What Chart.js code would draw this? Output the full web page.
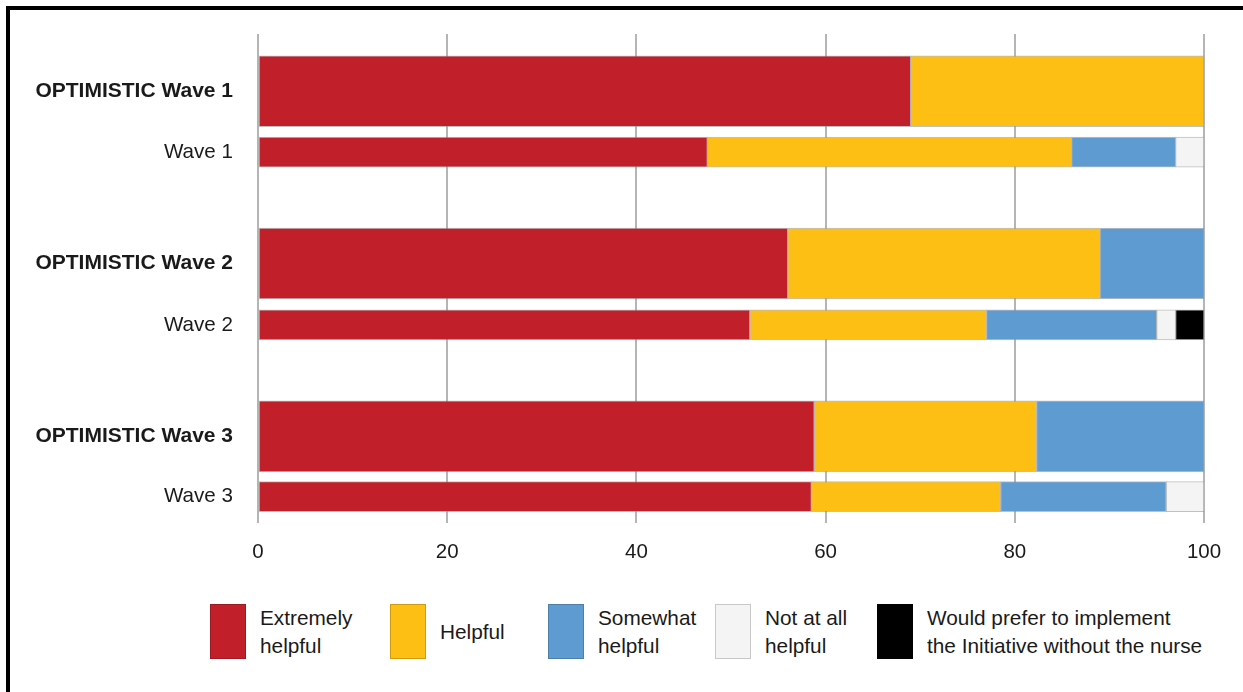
<!DOCTYPE html>
<html>
<head>
<meta charset="utf-8">
<title>Helpfulness of the nurse by wave</title>
<script src="https://cdn.jsdelivr.net/npm/chart.js@4.4.1/dist/chart.umd.min.js"></script>
<style>
  html, body {
    margin: 0;
    padding: 0;
    width: 1243px;
    height: 692px;
    overflow: hidden;
    background: #fff;
    font-family: "Liberation Sans", Arial, sans-serif;
    color: #1a1a1a;
  }
  .frame {
    position: absolute;
    left: 6px;
    top: 6px;
    width: 1300px;
    height: 720px;
    border-left: 4px solid #000;
    border-top: 4px solid #000;
  }
  .chart-wrap {
    position: absolute;
    left: 0;
    top: 0;
  }
  #legend {
    position: absolute;
    left: 0;
    top: 604px;
    width: 1243px;
    height: 60px;
  }
  .legend-item {
    position: absolute;
    top: 0;
    height: 55px;
    display: flex;
    align-items: center;
  }
  .legend-box {
    width: 36px;
    height: 55px;
    box-sizing: border-box;
    border: 1px solid rgba(0, 0, 0, 0.18);
    margin-right: 14px;
    flex: none;
  }
  .legend-text {
    font-size: 20.8px;
    line-height: 28px;
    white-space: nowrap;
  }
</style>
</head>
<body>
<div class="frame"></div>
<div class="chart-wrap">
  <canvas id="wavesChart" width="1243" height="570"></canvas>
</div>
<div id="legend"></div>

<script>
// Rows, top to bottom
const rowLabels = [
  "OPTIMISTIC Wave 1",
  "Wave 1",
  "OPTIMISTIC Wave 2",
  "Wave 2",
  "OPTIMISTIC Wave 3",
  "Wave 3",
];

// Response categories (legend text, split into lines)
const responseLabels = [
  ["Extremely", "helpful"],
  ["Helpful"],
  ["Somewhat", "helpful"],
  ["Not at all", "helpful"],
  ["Would prefer to implement", "the Initiative without the nurse"],
];

// Percentages per row
const extremelyHelpful = [69, 47.5, 56, 52, 58.8, 58.5];
const helpful = [31, 38.5, 33, 25, 23.5, 20];
const somewhatHelpful = [0, 11, 11, 18, 17.7, 17.5];
const notAtAllHelpful = [0, 3, 0, 2, 0, 4];
const preferWithoutNurse = [0, 0, 0, 3, 0, 0];

const xTicks = [0, 20, 40, 60, 80, 100];

// Layout: where each row sits on the vertical axis (pairs are closer together)
const rowPos = [0, 1, 2.83, 3.84, 5.67, 6.66];
const legendLeft = [210, 390, 548, 715, 877];

const colors = ["#C1202A", "#FDBF14", "#5E9BD1", "#F3F4F3", "#000000"];
const FONT = "'Liberation Sans', Arial, sans-serif";

Chart.defaults.font.family = FONT;
Chart.defaults.color = "#1a1a1a";

function isOptimistic(i) {
  return rowLabels[i].startsWith("OPTIMISTIC");
}

// Thick bars for the OPTIMISTIC rows, thin bars for the others
function buildDatasets() {
  const series = [
    extremelyHelpful,
    helpful,
    somewhatHelpful,
    notAtAllHelpful,
    preferWithoutNurse,
  ];
  const datasets = [];
  [true, false].forEach((thick) => {
    series.forEach((values, s) => {
      const points = [];
      values.forEach((v, i) => {
        if (isOptimistic(i) === thick && v > 0) {
          points.push({ x: v, y: rowPos[i], row: rowLabels[i] });
        }
      });
      datasets.push({
        label: responseLabels[s].join(" "),
        data: points,
        backgroundColor: colors[s],
        borderColor: "rgba(140, 140, 140, 0.55)",
        borderWidth: 1,
        borderSkipped: false,
        barThickness: thick ? 71 : 30,
        grouped: false,
        stack: thick ? "optimistic" : "wave",
      });
    });
  });
  return datasets;
}

function initializeChart() {
  const ctx = document.getElementById("wavesChart").getContext("2d");

  new Chart(ctx, {
    type: "bar",
    data: {
      datasets: buildDatasets(),
    },
    options: {
      indexAxis: "y",
      responsive: false,
      animation: false,
      layout: {
        padding: { top: 34, right: 39, bottom: 0, left: 0 },
      },
      plugins: {
        legend: { display: false },
        tooltip: {
          callbacks: {
            title: (items) => items[0].raw.row,
            label: (item) => item.dataset.label + ": " + item.raw.x + "%",
          },
        },
      },
      scales: {
        x: {
          type: "linear",
          stacked: true,
          min: 0,
          max: 100,
          afterBuildTicks: (axis) => {
            axis.ticks = xTicks.map((v) => ({ value: v }));
          },
          afterFit: (axis) => {
            axis.height = 57;
          },
          grid: {
            color: "#b5b5b5",
            lineWidth: 2,
            drawTicks: true,
            tickLength: 10,
          },
          border: { display: false },
          ticks: {
            padding: 17,
            maxRotation: 0,
            color: "#1a1a1a",
            font: { size: 20.5 },
          },
        },
        y: {
          type: "linear",
          reverse: true,
          offset: false,
          min: -0.94,
          max: 6.93,
          afterBuildTicks: (axis) => {
            axis.ticks = rowPos.map((v) => ({ value: v }));
          },
          afterFit: (axis) => {
            axis.width = 258;
            // labels sit well inside the axis, no extra room needed at the ends
            axis.paddingTop = 0;
            axis.paddingBottom = 0;
          },
          grid: { display: false, drawTicks: false, offset: false },
          border: { display: false },
          ticks: {
            autoSkip: false,
            padding: 25,
            color: "#1a1a1a",
            callback: function (value, index) {
              return rowLabels[index];
            },
            font: function (context) {
              const bold = context.index !== undefined && isOptimistic(context.index);
              return { size: bold ? 21 : 20.6, weight: bold ? "bold" : "normal" };
            },
          },
        },
      },
    },
  });
}

// Legend drawn as HTML so the labels can wrap on two lines
function buildLegend() {
  const legend = document.getElementById("legend");
  responseLabels.forEach((lines, i) => {
    const item = document.createElement("div");
    item.className = "legend-item";
    item.style.left = legendLeft[i] + "px";

    const box = document.createElement("div");
    box.className = "legend-box";
    box.style.background = colors[i];

    const text = document.createElement("div");
    text.className = "legend-text";
    text.innerHTML = lines.join("<br>");

    item.appendChild(box);
    item.appendChild(text);
    legend.appendChild(item);
  });
}

initializeChart();
buildLegend();
</script>
</body>
</html>
